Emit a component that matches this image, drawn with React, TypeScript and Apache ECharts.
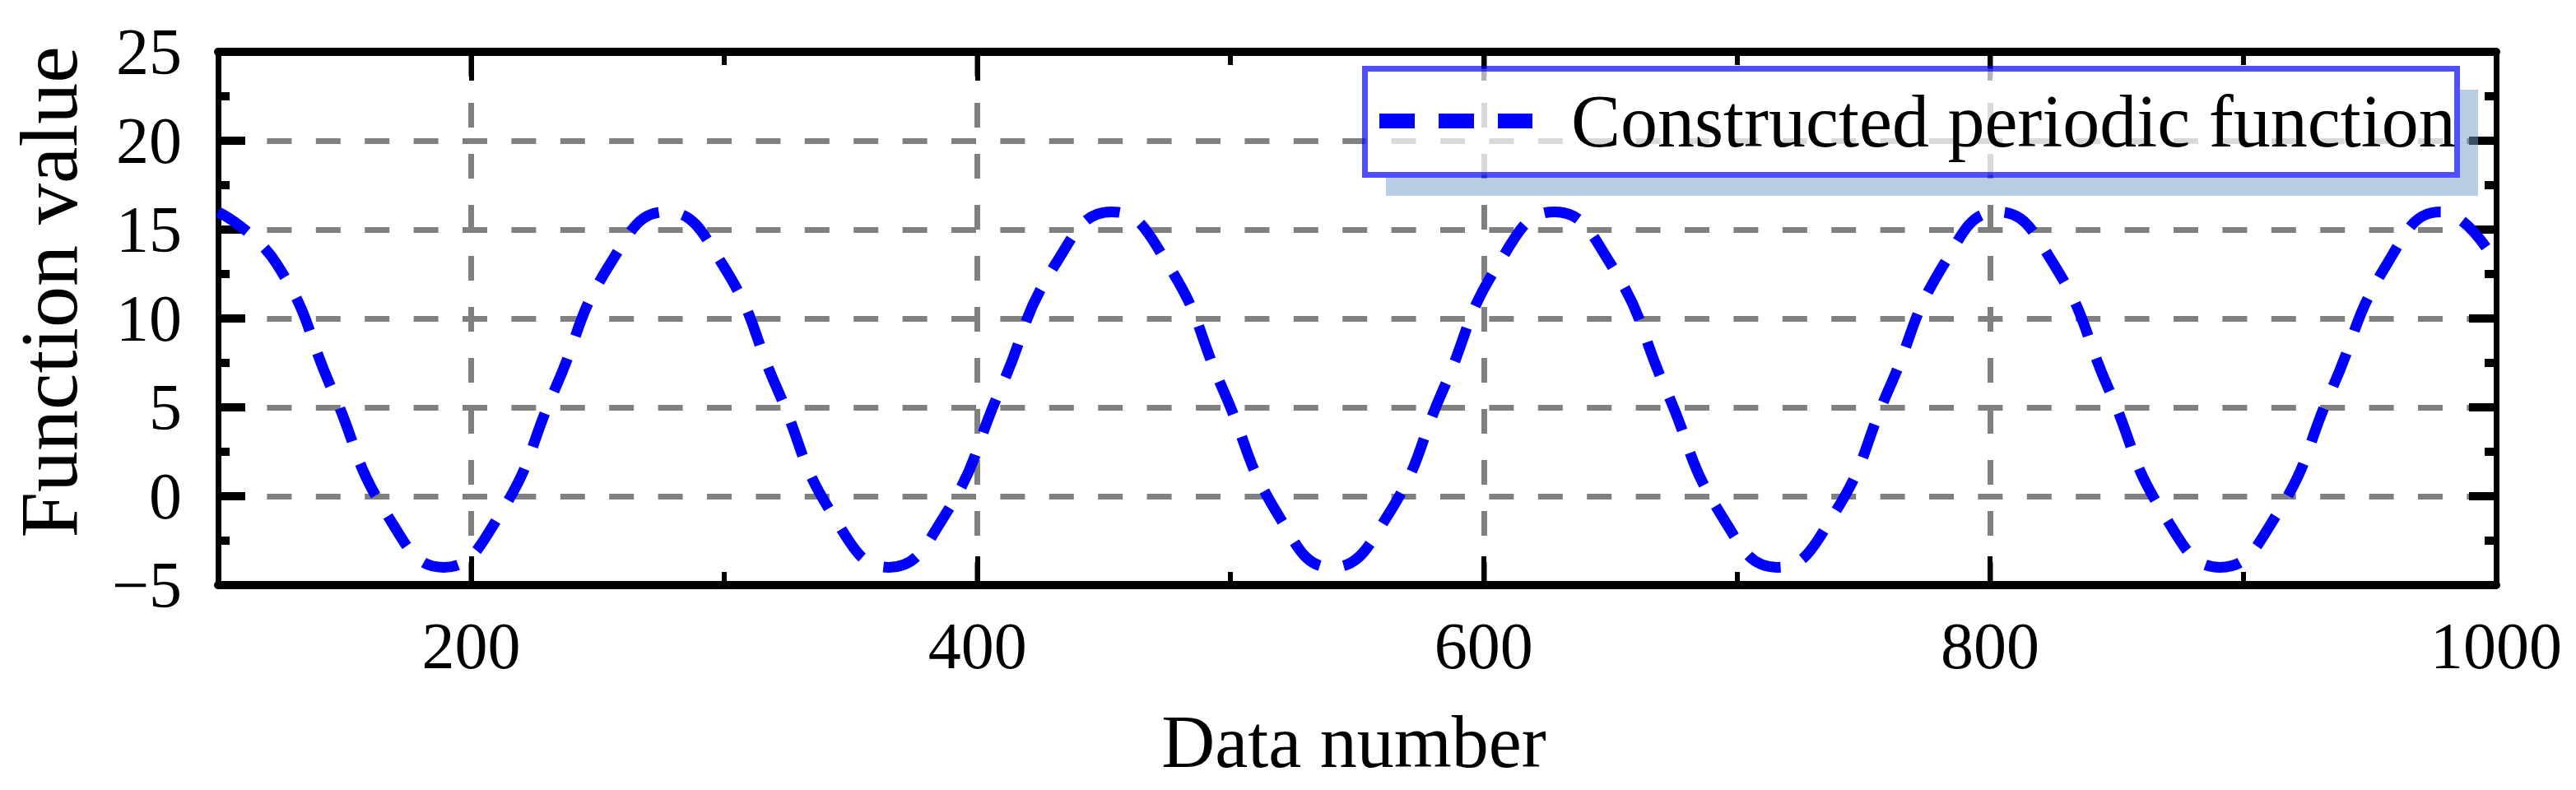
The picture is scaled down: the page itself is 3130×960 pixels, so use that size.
import React, { useEffect, useRef } from 'react';
import * as echarts from 'echarts';

const seriesName = 'Constructed periodic function';
const xTitle = 'Data number';
const yTitle = 'Function value';

// Curve (data number, function value)
const xValues = [
  100, 123, 145, 167, 189, 211, 233, 255, 277, 299, 321, 343, 365, 387, 409, 431,
  453, 475, 497, 519, 540, 562, 584, 606, 628, 650, 672, 694, 716, 738, 760, 782,
  803, 825, 847, 869, 891, 913, 935, 957, 978, 1000,
];
const yValues = [
  16.0, 13.1, 6.0, -1.1, -4.0, -1.1, 6.0, 13.1, 16.0, 13.1, 6.0, -1.1, -4.0, -1.1, 6.0, 13.1,
  16.0, 13.1, 6.0, -1.1, -4.0, -1.1, 6.0, 13.1, 16.0, 13.1, 6.0, -1.1, -4.0, -1.1, 6.0, 13.1,
  16.0, 13.1, 6.0, -1.1, -4.0, -1.1, 6.0, 13.1, 16.0, 13.1,
];

const xMajorTicks = [200, 400, 600, 800, 1000];
const xMinorTicks = [300, 500, 700, 900];
const xMin = 100;
const xMax = 1000;
const yMin = -5;
const yMax = 25;
const yStep = 5;

const FONT = '"Liberation Serif", "Times New Roman", serif';

export default function App() {
  const ref = useRef<HTMLDivElement>(null);

  useEffect(() => {
    if (!ref.current) return;
    const chart = echarts.init(ref.current, null, { renderer: 'svg' });

    const baseX = (position: string, ticks: number[], len: number, extra: any = {}) => ({
      type: 'value',
      position,
      min: xMin,
      max: xMax,
      gridIndex: 0,
      axisLine: { show: false, onZero: false },
      axisTick: {
        show: true,
        inside: true,
        length: len,
        customValues: ticks,
        lineStyle: { color: '#000', width: 6 },
      },
      axisLabel: { show: false },
      splitLine: { show: false },
      ...extra,
    });

    const baseY = (position: string, extra: any = {}) => ({
      type: 'value',
      position,
      min: yMin,
      max: yMax,
      interval: yStep,
      axisLine: { show: true, onZero: false, lineStyle: { color: '#000', width: 7 } },
      axisTick: { show: true, inside: true, length: 33, lineStyle: { color: '#000', width: 10 } },
      minorTick: { show: true, splitNumber: 2, length: 14, lineStyle: { color: '#000', width: 10 } },
      axisLabel: { show: false },
      splitLine: { show: false },
      ...extra,
    });

    const option: any = {
      animation: false,
      backgroundColor: '#ffffff',
      grid: {
        left: 265,
        right: 97,
        top: 63,
        bottom: 249,
        containLabel: false,
        outerBoundsMode: 'none',
      },
      xAxis: [
        baseX('bottom', xMajorTicks, 35, {
          axisLine: { show: true, onZero: false, lineStyle: { color: '#000', width: 10 } },
          axisLabel: {
            show: true,
            customValues: xMajorTicks,
            formatter: (v: number) => (v % 200 === 0 ? String(v) : ''),
            margin: 34,
            fontSize: 80,
            fontFamily: FONT,
            color: '#000',
          },
          splitLine: {
            show: true,
            lineStyle: { color: '#808080', width: 7, type: [30, 32] },
          },
        }),
        baseX('bottom', xMinorTicks, 16),
        baseX('top', xMajorTicks, 35, {
          axisLine: { show: true, onZero: false, lineStyle: { color: '#000', width: 10 } },
        }),
        baseX('top', xMinorTicks, 16),
      ],
      yAxis: [
        baseY('left', {
          axisLabel: {
            show: true,
            margin: 44,
            fontSize: 80,
            fontFamily: FONT,
            color: '#000',
            padding: [0, 0, 11, 0],
            formatter: (v: number) => String(v).replace('-', '\u2212'),
          },
          splitLine: {
            show: true,
            lineStyle: { color: '#808080', width: 7, type: [30, 29.4] },
          },
        }),
        baseY('right'),
      ],
      legend: {
        show: true,
        data: [seriesName],
        left: 1667,
        top: 102,
        padding: 0,
        itemWidth: 186,
        itemHeight: 18,
        itemGap: 0,
        selectedMode: false,
        z: 60,
        textStyle: {
          fontSize: 90,
          fontFamily: FONT,
          color: '#000',
          padding: [0, 0, 0, 42],
        },
        lineStyle: { width: 18, type: [43, 29], color: '#0000ff', cap: 'butt' },
      },
      graphic: {
        elements: [
          {
            type: 'polygon',
            z: 50,
            shape: {
              points: [
                [2989, 109],
                [3011, 109],
                [3011, 238],
                [1684, 238],
                [1684, 216],
                [2989, 216],
              ],
            },
            style: { fill: 'rgba(109,155,201,0.5)' },
          },
          {
            type: 'rect',
            z: 51,
            shape: { x: 1658.5, y: 83.5, width: 1327, height: 129 },
            style: {
              fill: 'rgba(255,255,255,0.7)',
              stroke: 'rgba(0,0,255,0.69)',
              lineWidth: 7,
            },
          },
          {
            type: 'text',
            z: 60,
            x: 59,
            y: 355,
            rotation: Math.PI / 2,
            style: {
              text: yTitle,
              font: `100px ${FONT}`,
              fill: '#000',
              textAlign: 'center',
              textVerticalAlign: 'middle',
            },
          },
          {
            type: 'text',
            z: 60,
            x: 1645,
            y: 901.6,
            style: {
              text: xTitle,
              font: `90px ${FONT}`,
              fill: '#000',
              textAlign: 'center',
              textVerticalAlign: 'middle',
            },
          },
        ],
      },
      series: [
        {
          type: 'line',
          name: seriesName,
          xAxisIndex: 0,
          yAxisIndex: 0,
          data: xValues.map((x, i) => [x, yValues[i]]),
          smooth: true,
          symbol: 'none',
          showSymbol: false,
          clip: true,
          z: 3,
          itemStyle: { color: '#0000ff' },
          lineStyle: { color: '#0000ff', width: 13, type: [43, 29], cap: 'butt' },
        },
      ],
    };

    chart.setOption(option);
    return () => chart.dispose();
  }, []);

  return (
    <div
      ref={ref}
      style={{ position: 'absolute', left: 0, top: 0, width: 3130, height: 960, background: '#fff' }}
    />
  );
}
